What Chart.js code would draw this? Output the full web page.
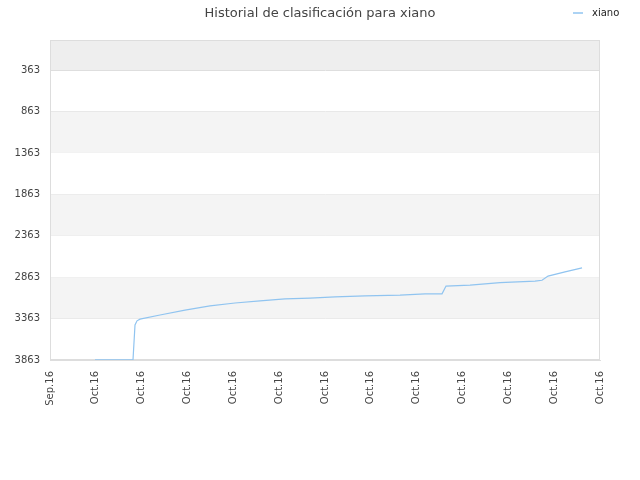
<!DOCTYPE html>
<html><head><script src="https://cdn.jsdelivr.net/npm/chart.js"></script>
<style>body{margin:0}#w{width:640px;height:480px}</style></head>
<body><div id="w"><canvas id="c"></canvas></div>
<script>
const xLabels=["Sep.16","Oct.16","Oct.16","Oct.16","Oct.16","Oct.16","Oct.16","Oct.16","Oct.16","Oct.16","Oct.16","Oct.16","Oct.16"];
const yTicks=[363,863,1363,1863,2363,2863,3363,3863];
const xPix=[95,133,135,137,140,160,185,210,235,260,285,310,335,365,400,425,442,446,470,500,535,542,548,565,582];
const rank=[3860,3860,3440,3390,3370,3320,3260,3210,3175,3150,3125,3115,3100,3090,3080,3065,3065,2970,2960,2930,2910,2900,2850,2800,2750];
const pts=xPix.map((p,i)=>({x:(p-50)/45.83,y:rank[i]}));
const bands={id:'bands',beforeDatasetsDraw(ch){const {ctx,chartArea:a,scales:{y}}=ch;ctx.save();
 const b=[[0,363,'#eeeeee'],[863,1363,'#f4f4f4'],[1863,2363,'#f4f4f4'],[2863,3363,'#f4f4f4']];
 b.forEach(([s,e,c])=>{ctx.fillStyle=c;const t=y.getPixelForValue(s),bt=y.getPixelForValue(e);ctx.fillRect(a.left,t,a.right-a.left,bt-t);});
 ctx.strokeStyle='#ddd';ctx.lineWidth=1;ctx.strokeRect(a.left+0.5,a.top+0.5,a.right-a.left-1,a.bottom-a.top-1);
 ctx.restore();},
 afterDraw(ch){const ctx=ch.ctx;ctx.save();ctx.font='13px "DejaVu Sans"';ctx.fillStyle='#444';ctx.textAlign='center';
 ctx.fillText('Historial de clasificación para xiano',320,17);
 ctx.strokeStyle='#90c4f0';ctx.lineWidth=1.5;ctx.beginPath();ctx.moveTo(573,13);ctx.lineTo(583,13);ctx.stroke();
 ctx.font='10px "DejaVu Sans"';ctx.fillStyle='#222';ctx.textAlign='left';ctx.fillText('xiano',592,16);ctx.restore();}};
new Chart(document.getElementById('c'),{type:'line',
 data:{datasets:[{label:'xiano',data:pts,borderColor:'#90c4f0',borderWidth:1.2,pointRadius:0,fill:false,tension:0}]},
 options:{animation:false,responsive:true,maintainAspectRatio:false,
  layout:{padding:{top:40,right:40,left:0,bottom:0}},
  plugins:{legend:{display:false},title:{display:false},tooltip:{enabled:false}},
  scales:{
   x:{type:'linear',min:0,max:12,afterFit(s){s.height=120},
    ticks:{stepSize:1,autoSkip:false,maxRotation:90,minRotation:90,color:'#444',font:{size:10,family:'DejaVu Sans'},callback:v=>xLabels[v]},
    grid:{display:false},border:{color:'#ddd'}},
   y:{reverse:true,min:0,max:3863,afterFit(s){s.width=50},
    afterBuildTicks(s){s.ticks=yTicks.map(v=>({value:v}))},
    ticks:{color:'#444',padding:10,font:{size:10,family:'DejaVu Sans'},callback:v=>String(v)},
    grid:{color:'#dddddd',drawTicks:false},border:{color:'#ddd'}}
  }},plugins:[bands]});
</script></body></html>
